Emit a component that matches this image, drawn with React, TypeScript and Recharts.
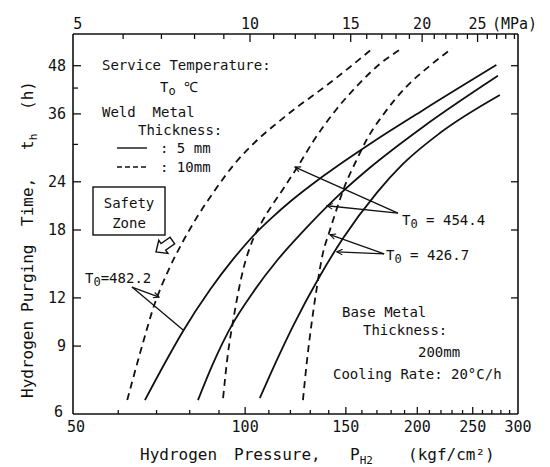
import React from "react";
import { LineChart, Line, XAxis, YAxis, ReferenceLine } from "recharts";

type Pt = { p: number; t: number };

// axis ticks (pressure in kgf/cm2, top axis in MPa, time in h)
const pressureTicks = [50, 60, 70, 80, 90, 100, 110, 120, 130, 140, 150, 160, 170, 180, 190, 200, 210, 220, 230, 240, 250, 260, 270, 280, 290, 300];
const pressureLabels = [50, 100, 150, 200, 250, 300];
const mpaTicks = [5, 6, 7, 8, 9, 10, 11, 12, 13, 14, 15, 16, 17, 18, 19, 20, 21, 22, 23, 24, 25, 26, 27, 28, 29];
const mpaLabels = [5, 10, 15, 20, 25];
const timeTicks = [6, 9, 12, 18, 24, 30, 36, 42, 48];
const timeLabels = [6, 9, 12, 18, 24, 36, 48];
const rightTimeTicks = [12, 18, 24, 36, 48];

const MPA_PER_KGF = 0.0980665;

// weld metal 5 mm (solid)
const solid482: Pt[] = [
  { p: 66.8, t: 6.52 }, { p: 73, t: 8.32 }, { p: 77.9, t: 9.85 }, { p: 86.8, t: 12.6 },
  { p: 95.2, t: 15.1 }, { p: 104.9, t: 17.8 }, { p: 111.9, t: 19.5 }, { p: 119.8, t: 21.3 },
  { p: 136.8, t: 24.8 }, { p: 167, t: 30.4 }, { p: 204.6, t: 36.8 }, { p: 275, t: 48.2 },
];
const solid454: Pt[] = [
  { p: 82.7, t: 6.52 }, { p: 87.9, t: 8.12 }, { p: 94.8, t: 10.2 }, { p: 103.2, t: 12.4 },
  { p: 113.7, t: 15.0 }, { p: 124.7, t: 17.5 }, { p: 146.4, t: 22.3 }, { p: 165.2, t: 26.1 },
  { p: 204.6, t: 33.3 }, { p: 276.7, t: 45.2 },
];
const solid427: Pt[] = [
  { p: 106.1, t: 6.6 }, { p: 113.7, t: 8.3 }, { p: 121.5, t: 10.2 }, { p: 135.2, t: 13.7 },
  { p: 148.2, t: 17.1 }, { p: 170, t: 22.5 }, { p: 188.8, t: 26.7 }, { p: 219, t: 32.1 },
  { p: 278.9, t: 40.3 },
];

// weld metal 10 mm (dashed)
const dashed482: Pt[] = [
  { p: 62.2, t: 6.52 }, { p: 65.5, t: 8.63 }, { p: 69.5, t: 11.6 }, { p: 73.5, t: 14.2 },
  { p: 78, t: 16.9 }, { p: 82.5, t: 19.5 }, { p: 88.5, t: 22.8 }, { p: 96, t: 26.8 },
  { p: 105, t: 30.8 }, { p: 113.5, t: 34 }, { p: 123, t: 37.4 }, { p: 133, t: 40.7 },
  { p: 150, t: 46.7 }, { p: 167, t: 53.2 },
];
const dashed454: Pt[] = [
  { p: 91.5, t: 6.6 }, { p: 93.3, t: 8.6 }, { p: 95.3, t: 10.5 }, { p: 99.2, t: 14.2 },
  { p: 103, t: 16.9 }, { p: 107, t: 18.9 }, { p: 117, t: 23.2 }, { p: 124, t: 26.5 },
  { p: 132, t: 30.8 }, { p: 144, t: 36.8 }, { p: 158, t: 43 }, { p: 172, t: 48.5 },
  { p: 188, t: 53.2 },
];
const dashed427: Pt[] = [
  { p: 126.2, t: 6.52 }, { p: 128.3, t: 8.28 }, { p: 130.9, t: 10.5 }, { p: 133.5, t: 12.8 },
  { p: 136.8, t: 15.7 }, { p: 140.2, t: 17.7 }, { p: 142.5, t: 19.1 }, { p: 149, t: 23.2 },
  { p: 157.5, t: 27.8 }, { p: 163, t: 30.8 }, { p: 175, t: 36.1 }, { p: 191, t: 42.2 },
  { p: 209, t: 47.6 }, { p: 230, t: 53.2 },
];

// leader lines from the T0 labels to the curves (arrow at the curve end)
const leaders: { from: Pt; to: Pt; arrow: boolean }[] = [
  { from: { p: 185, t: 19.9 }, to: { p: 122.2, t: 26.2 }, arrow: true },
  { from: { p: 185, t: 19.9 }, to: { p: 139, t: 20.8 }, arrow: true },
  { from: { p: 175, t: 15.6 }, to: { p: 140.7, t: 17.5 }, arrow: true },
  { from: { p: 175, t: 15.6 }, to: { p: 144.7, t: 15.8 }, arrow: true },
  { from: { p: 63.4, t: 12.8 }, to: { p: 70.7, t: 12.06 }, arrow: true },
  { from: { p: 63.4, t: 12.8 }, to: { p: 77.9, t: 9.9 }, arrow: false },
];

const W = 542;
const H = 459;
const FONT = "'DejaVu Sans Mono', 'Liberation Mono', monospace";
const txt: React.CSSProperties = { fontFamily: FONT, fontSize: 14, fill: "#111", whiteSpace: "pre" };
const big: React.CSSProperties = { ...txt, fontSize: 16 };
const tickTxt: React.CSSProperties = { ...txt, fontSize: 15 };

const BottomTick = (props: any) => {
  const { x, y, payload } = props;
  const v = payload.value;
  const major = pressureLabels.includes(v);
  return (
    <g>
      {v !== 50 && v !== 300 && <line x1={x} x2={x} y1={y} y2={y - (major ? 7 : 4)} stroke="#111" strokeWidth={1.3} />}
      {major && (
        <text x={v === 50 ? x + 3 : x} y={y + 18} textAnchor="middle" style={tickTxt}>{v}</text>
      )}
    </g>
  );
};

const TopTick = (props: any) => {
  const { x, y, payload } = props;
  const mpa = Math.round(payload.value * MPA_PER_KGF);
  const major = mpaLabels.includes(mpa);
  return (
    <g>
      {mpa !== 5 && <line x1={x} x2={x} y1={y} y2={y + (major ? 8 : 5)} stroke="#111" strokeWidth={1.3} />}
      {major && <text x={x} y={y - 5} textAnchor="middle" style={tickTxt}>{mpa}</text>}
    </g>
  );
};

const LeftTick = (props: any) => {
  const { x, y, payload } = props;
  const v = payload.value;
  const major = timeLabels.includes(v);
  if (v === 6) {
    return <text x={x - 10} y={y + 3} textAnchor="end" style={tickTxt}>6</text>;
  }
  return (
    <g>
      <line x1={x} x2={x + (major ? 8 : 5)} y1={y} y2={y} stroke="#111" strokeWidth={1.3} />
      {major && <text x={x - 7} y={y + 5} textAnchor="end" style={tickTxt}>{v}</text>}
    </g>
  );
};

const RightTick = (props: any) => {
  const { x, y } = props;
  return <line x1={x} x2={x - 7} y1={y} y2={y} stroke="#111" strokeWidth={1.3} />;
};

const axisStroke = { stroke: "#111", strokeWidth: 1.6 };

export default function App() {
  return (
    <div style={{ position: "relative", width: W, height: H }}>
      <svg width={0} height={0} style={{ position: "absolute" }}>
        <defs>
          <marker id="leadArrow" viewBox="0 0 10 10" refX="9" refY="5" markerWidth="7" markerHeight="7" orient="auto" markerUnits="userSpaceOnUse">
            <path d="M1,1 L9,5 L1,9" fill="none" stroke="#111" strokeWidth={1.6} />
          </marker>
        </defs>
      </svg>
      <LineChart width={W} height={H} margin={{ top: 25, right: 31, bottom: 52, left: 64 }}>
        <XAxis
          dataKey="p"
          type="number"
          scale="log"
          domain={[50, 300]}
          allowDataOverflow
          ticks={pressureTicks}
          interval={0}
          height={1}
          tickSize={0}
          tickMargin={0}
          tick={BottomTick}
          axisLine={axisStroke}
          tickLine={false}
        />
        <XAxis
          xAxisId="top"
          orientation="top"
          dataKey="p"
          type="number"
          scale="log"
          domain={[50, 300]}
          allowDataOverflow
          ticks={mpaTicks.map((m) => m / MPA_PER_KGF)}
          interval={0}
          height={1}
          tickSize={0}
          tickMargin={0}
          tick={TopTick}
          axisLine={axisStroke}
          tickLine={false}
        />
        <YAxis
          type="number"
          scale="log"
          domain={[6, 58]}
          allowDataOverflow
          ticks={timeTicks}
          interval={0}
          width={1}
          tickSize={0}
          tickMargin={0}
          tick={LeftTick}
          axisLine={axisStroke}
          tickLine={false}
        />
        <YAxis
          yAxisId="right"
          orientation="right"
          type="number"
          scale="log"
          domain={[6, 58]}
          allowDataOverflow
          ticks={rightTimeTicks}
          interval={0}
          width={1}
          tickSize={0}
          tickMargin={0}
          tick={RightTick}
          axisLine={axisStroke}
          tickLine={false}
        />
        {[dashed482, dashed454, dashed427].map((d, i) => (
          <Line
            key={"d" + i}
            xAxisId="top"
            data={d}
            dataKey="t"
            type="monotone"
            stroke="#111"
            strokeWidth={1.8}
            strokeDasharray="7 5"
            dot={false}
            activeDot={false}
            isAnimationActive={false}
          />
        ))}
        {[solid482, solid454, solid427].map((d, i) => (
          <Line
            key={"s" + i}
            yAxisId="right"
            data={d}
            dataKey="t"
            type="monotone"
            stroke="#111"
            strokeWidth={1.8}
            dot={false}
            activeDot={false}
            isAnimationActive={false}
          />
        ))}
        {leaders.map((l, i) => (
          <ReferenceLine
            key={i}
            segment={[{ x: l.from.p, y: l.from.t }, { x: l.to.p, y: l.to.t }]}
            stroke="#111"
            strokeWidth={1.3}
            markerEnd={l.arrow ? "url(#leadArrow)" : undefined}
          />
        ))}
      </LineChart>
      <svg width={W} height={H} style={{ position: "absolute", left: 0, top: 0, pointerEvents: "none" }}>
        {/* top axis unit */}
        <text x={484} y={21} style={tickTxt}>(MPa)</text>

        {/* legend block */}
        <text x={94} y={62} style={txt}>{"Service Temperature:"}</text>
        <text x={152} y={84} style={txt}>T<tspan fontSize={12} dy={3}>o</tspan><tspan dy={-3}>{" ℃"}</tspan></text>
        <text x={94} y={109} style={txt}>{"Weld  Metal"}</text>
        <text x={130} y={127} style={txt}>Thickness:</text>
        <line x1={109} x2={139} y1={140} y2={140} stroke="#111" strokeWidth={1.4} />
        <text x={152} y={145} style={txt}>{": 5 mm"}</text>
        <line x1={109} x2={139} y1={159} y2={159} stroke="#111" strokeWidth={1.4} strokeDasharray="5 3" />
        <text x={152} y={164} style={txt}>{": 10mm"}</text>

        {/* safety zone */}
        <rect x={85} y={179} width={72} height={48} fill="none" stroke="#111" strokeWidth={1.4} />
        <text x={121} y={200} textAnchor="middle" style={txt}>Safety</text>
        <text x={121} y={220} textAnchor="middle" style={txt}>Zone</text>
        <polygon
          points="0,0 9,-8 9,-4 20,-4 20,4 9,4 9,8"
          transform="translate(148,244) rotate(-35)"
          fill="#fff"
          stroke="#111"
          strokeWidth={1.4}
        />

        {/* temperature labels */}
        <text x={77} y={275} style={txt}>T<tspan fontSize={12} dy={3}>0</tspan><tspan dy={-3}>=482.2</tspan></text>
        <text x={394} y={217} style={txt}>T<tspan fontSize={12} dy={3}>0</tspan><tspan dy={-3}>{" = 454.4"}</tspan></text>
        <text x={378} y={252} style={txt}>T<tspan fontSize={12} dy={3}>0</tspan><tspan dy={-3}>{" = 426.7"}</tspan></text>

        {/* base metal notes */}
        <text x={334} y={309} style={txt}>{"Base Metal"}</text>
        <text x={355} y={327} style={txt}>Thickness:</text>
        <text x={410} y={349} style={txt}>200mm</text>
        <text x={325} y={371} style={txt}>{"Cooling Rate: 20°C/h"}</text>

        {/* x axis title */}
        <text x={132} y={452} style={big}>Hydrogen</text>
        <text x={226} y={452} style={big}>Pressure,</text>
        <text x={342} y={452} style={big}>P<tspan fontSize={11} dy={4}>H2</tspan></text>
        <text x={400} y={452} style={big}>(kgf/cm²)</text>

        {/* y axis title */}
        <text transform="translate(25,390) rotate(-90)" style={big}>Hydrogen</text>
        <text transform="translate(25,304) rotate(-90)" style={big}>Purging</text>
        <text transform="translate(25,218) rotate(-90)" style={big}>Time,</text>
        <text transform="translate(25,142) rotate(-90)" style={big}>t<tspan fontSize={11} dy={4}>h</tspan></text>
        <text transform="translate(25,102) rotate(-90)" style={big}>(h)</text>
      </svg>
    </div>
  );
}
